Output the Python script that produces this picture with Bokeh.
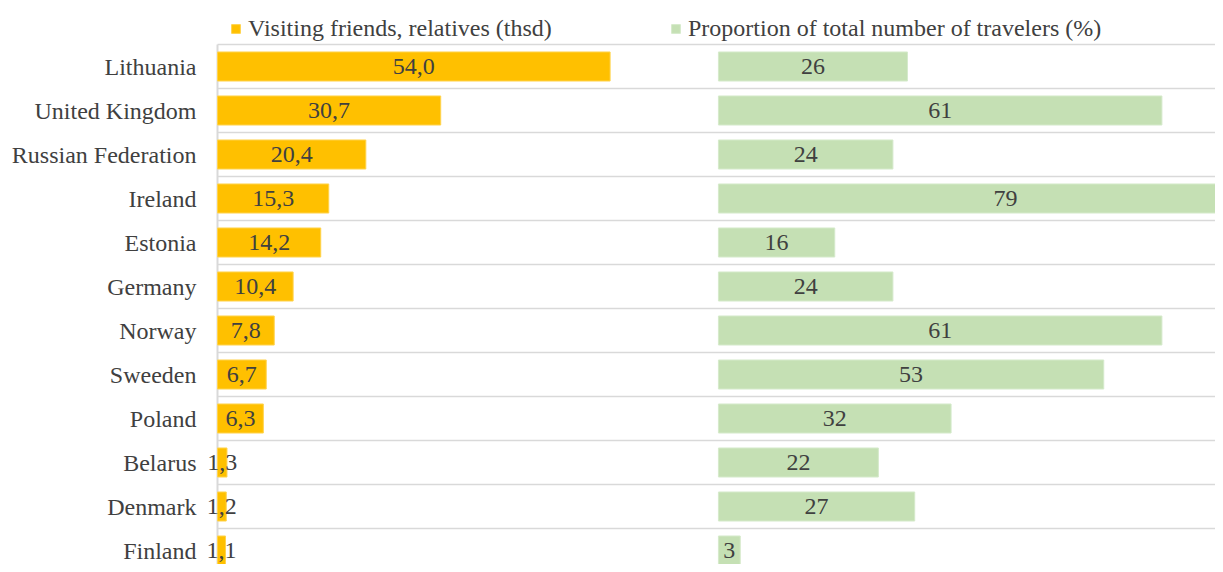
from bokeh.plotting import figure
from bokeh.models import Range1d, Legend, LegendItem, ColumnDataSource, FixedTicker
from bokeh.core.properties import value
from bokeh.embed import file_html
from bokeh.resources import INLINE

# ---- data ----
countries = ["Lithuania", "United Kingdom", "Russian Federation", "Ireland", "Estonia",
             "Germany", "Norway", "Sweeden", "Poland", "Belarus", "Denmark", "Finland"]
vfr_thsd = [54.0, 30.7, 20.4, 15.3, 14.2, 10.4, 7.8, 6.7, 6.3, 1.3, 1.2, 1.1]
share_pct = [26, 61, 24, 79, 16, 24, 61, 53, 32, 22, 27, 3]
series_names = ["Visiting friends, relatives (thsd)",
                "Proportion of total number of travelers (%)"]

# ---- layout constants ----
ORANGE = "#FFC000"
GREEN = "#C5E0B4"
TXT = "#404040"
GRID = "#D9D9D9"
FONT = "Liberation Serif"
OFFSET = 68.9          # start of the right-hand panel in axis units
X_START = -2.34
X_END = 137.27
Y_TOP = 13.5
Y_BOT = 0.682

n = len(countries)
ypos = [n - i for i in range(n)]

src = ColumnDataSource(dict(
    y=ypos,
    vfr=vfr_thsd,
    vfr_mid=[v / 2 for v in vfr_thsd],
    vfr_lbl=[f"{v:.1f}".replace(".", ",") for v in vfr_thsd],
    s_left=[OFFSET] * n,
    s_right=[OFFSET + v for v in share_pct],
    s_mid=[OFFSET + v / 2 for v in share_pct],
    s_lbl=[str(v) for v in share_pct],
))

p = figure(width=1215, height=564, output_backend="svg", toolbar_location=None,
           x_range=Range1d(X_START, X_END), y_range=Range1d(Y_BOT, Y_TOP),
           min_border_left=200, min_border_right=0, min_border_top=0, min_border_bottom=0)
p.outline_line_color = None
p.xgrid.visible = False
p.ygrid.visible = False
p.xaxis.visible = False

# row separators and vertical axis line
seps = [y + 0.5 for y in ypos]
p.segment(x0=[0] * len(seps), x1=[X_END] * len(seps), y0=seps, y1=seps,
          line_color=GRID, line_width=1.5)
p.segment(x0=[0], x1=[0], y0=[Y_BOT], y1=[ypos[0] + 0.5], line_color=GRID, line_width=2)

r1 = p.hbar(y="y", left=0, right="vfr", height=0.66, source=src,
            fill_color=ORANGE, line_color="#FFD34D", line_width=1)
r2 = p.hbar(y="y", left="s_left", right="s_right", height=0.66, source=src,
            fill_color=GREEN, line_color="#D5EACB", line_width=1)

p.text(x="vfr_mid", y="y", text="vfr_lbl", source=src, text_align="center",
       text_baseline="middle", text_font=value(FONT), text_font_size="24px", text_color=TXT)
p.text(x="s_mid", y="y", text="s_lbl", source=src, text_align="center",
       text_baseline="middle", text_font=value(FONT), text_font_size="24px", text_color=TXT)

ax = p.yaxis[0]
ax.ticker = FixedTicker(ticks=ypos)
ax.major_label_overrides = {y: c for y, c in zip(ypos, countries)}
ax.axis_line_color = None
ax.major_tick_line_color = None
ax.minor_tick_line_color = None
ax.major_tick_out = 0
ax.major_tick_in = 0
ax.major_label_standoff = 4
ax.major_label_text_font = FONT
ax.major_label_text_font_size = "24px"
ax.major_label_text_color = TXT


def make_legend(label, rend, loc):
    lg = Legend(items=[LegendItem(label=label, renderers=[rend])], location=loc,
                orientation="horizontal", glyph_width=11, glyph_height=11,
                label_standoff=7, padding=0, margin=0, spacing=0,
                border_line_color=None, background_fill_alpha=0,
                label_text_font=FONT, label_text_font_size="24px",
                label_text_color=TXT, label_height=24)
    p.add_layout(lg)


make_legend(series_names[0], r1, (30, 522))
make_legend(series_names[1], r2, (470, 522))

open("out.html", "w").write(file_html(p, INLINE))
